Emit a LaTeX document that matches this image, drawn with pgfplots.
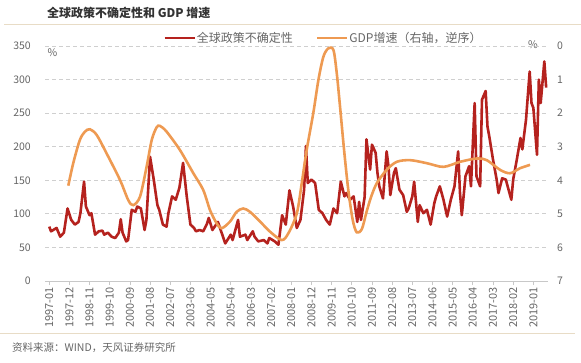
\documentclass[border=0pt]{standalone}
\usepackage{fontspec}
\setmainfont{Noto Sans CJK SC}
\usepackage{pgfplots}
\pgfplotsset{compat=1.18}
\definecolor{epured}{HTML}{B5221E}
\definecolor{gdporange}{HTML}{EE9A52}
\definecolor{gridgray}{HTML}{CFCFCF}
\definecolor{txtgray}{HTML}{666666}
\definecolor{titlegray}{HTML}{333333}
\definecolor{sepline}{HTML}{E8DCC6}
\definecolor{axisgray}{HTML}{C8C8C8}

\pgfplotstableread{
m v
0 81
1 74
4 79
6 66
8 72
10 108
12 91
14 84
16 88
17 101
19 148
20 111
22 98
23 101
25 69
27 74
29 75
30 69
32 72
34 66
36 64
38 72
39 92
40 72
42 59
43 61
45 106
47 103
48 111
50 108
52 76
53 91
55 185
57 151
59 113
60 106
62 84
64 81
65 101
67 126
69 121
71 139
73 176
75 126
77 84
79 79
80 74
82 76
84 74
86 85
87 94
89 76
92 88
94 72
96 56
99 69
100 61
103 91
104 66
107 69
108 61
111 74
112 66
114 59
117 61
119 56
120 64
123 59
125 54
127 98
129 84
131 135
133 111
135 79
137 91
139 136
140 201
141 146
143 151
145 146
147 106
149 101
151 91
153 84
155 108
157 101
159 148
161 126
162 131
164 121
166 126
168 88
169 118
170 91
172 125
173 211
175 166
176 203
178 191
179 161
180 141
182 123
184 193
185 171
186 128
188 161
189 168
191 136
193 128
195 103
196 108
198 126
199 148
201 88
202 113
204 101
206 106
208 84
210 116
211 126
213 141
215 121
217 96
219 121
221 141
223 193
224 131
225 98
227 156
229 171
230 141
232 265
233 156
235 141
236 270
238 283
239 230
240 215
242 181
244 151
245 131
247 153
249 151
252 121
253 151
255 181
257 213
258 196
260 240
262 312
263 265
264 258
266 188
267 300
268 265
270 327
271 288
}\epudata

\pgfplotstableread{
m g
10.4 4.16
13.1 3.49
16.7 2.80
19.5 2.55
22.2 2.48
25.9 2.65
31.3 3.20
38.6 3.99
43.1 4.59
45.8 4.74
49.5 4.49
53.1 3.60
55.9 2.80
58.6 2.42
60.4 2.38
64.0 2.55
71.3 3.10
78.6 3.79
84.0 4.29
87.7 4.89
91.3 5.28
94.0 5.43
98.6 5.23
102.2 4.94
105.8 4.84
109.5 4.94
115.0 5.23
120.4 5.53
126.8 5.78
130.4 5.58
135.0 4.99
137.7 4.09
140.4 3.10
144.0 2.00
146.8 1.01
149.5 0.32
152.2 0.07
155.0 0.12
156.8 0.81
158.6 1.81
160.8 3.10
163.1 4.29
165.5 5.18
167.7 5.55
170.5 5.45
173.0 4.95
175.5 4.50
178.6 4.09
184.0 3.69
189.5 3.45
196.8 3.40
205.9 3.49
215.0 3.60
224.0 3.45
233.2 3.35
238.6 3.40
245.9 3.69
251.3 3.79
256.8 3.64
262.2 3.54
}\gdpdata

\begin{document}
\begin{tikzpicture}[x=1pt,y=1pt]
\path[use as bounding box] (0,0) rectangle (581,-362);
\draw[sepline, line width=1pt] (4,-24) -- (581,-24);
\draw[sepline, line width=1pt] (0,-333) -- (575,-333);
\node[anchor=west, inner sep=0pt, font=\fontsize{12}{14}\selectfont\bfseries, text=titlegray] at (47,-13) {全球政策不确定性和 GDP 增速};
\node[anchor=west, inner sep=0pt, font=\fontsize{10.5}{12}\selectfont, text=txtgray] at (12,-348) {资料来源：WIND，天风证券研究所};
\node[inner sep=0pt, font=\fontsize{10.5}{12}\selectfont, text=txtgray] at (52.5,-52.5) {\%};
\node[inner sep=0pt, font=\fontsize{10.5}{12}\selectfont, text=txtgray] at (533,-45) {\%};

\begin{axis}[
  at={(45pt,-281pt)}, anchor=south west,
  scale only axis, width=503pt, height=235pt,
  xmin=-2.3, xmax=272, ymin=0, ymax=350,
  axis x line*=bottom, axis y line*=left,
  y axis line style={draw=none},
  x axis line style={draw=axisgray, line width=0.8pt, -},
  xtick={0,11,...,264},
  xticklabels={1997-01,1997-12,1998-11,1999-10,2000-09,2001-08,2002-07,2003-06,2004-05,2005-04,2006-03,2007-02,2008-01,2008-12,2009-11,2010-10,2011-09,2012-08,2013-07,2014-06,2015-05,2016-04,2017-03,2018-02,2019-01},
  tick align=outside,
  major x tick style={draw=axisgray, line width=0.8pt},
  major tick length=4pt,
  major y tick style={draw=none},
  ytick={0,50,...,350},
  ymajorgrids,
  grid style={draw=gridgray, line width=0.8pt, dash pattern=on 4pt off 3pt},
  /pgf/number format/assume math mode=true,
  ticklabel style={font=\fontsize{10.5}{12}\selectfont, text=txtgray},
  yticklabel style={inner sep=0pt, anchor=east, xshift=-10pt},
  xticklabel style={font=\fontsize{11}{12}\selectfont, inner sep=0pt, yshift=-2pt, rotate=90, anchor=east},
  legend style={at={(0.2346,1.034)}, anchor=west, draw=none, fill=none, inner sep=0pt,
     font=\fontsize{12}{14}\selectfont, text=txtgray, legend columns=2,
     nodes={inner sep=1pt},
     /tikz/every even column/.append style={column sep=22pt}},
  legend image code/.code={\draw[#1] (0pt,0pt) -- (30pt,0pt);},
]
\addplot[epured, line width=2.6pt, line join=round] table[x=m, y=v] {\epudata};
\addlegendentry{全球政策不确定性}
\addlegendimage{gdporange, line width=2.6pt}
\addlegendentry{GDP增速（右轴，逆序）}
\end{axis}

\begin{axis}[
  at={(45pt,-281pt)}, anchor=south west,
  scale only axis, width=503pt, height=235pt,
  xmin=-2.3, xmax=272, ymin=0, ymax=7, y dir=reverse,
  axis x line=none, axis y line*=right,
  y axis line style={draw=none},
  major y tick style={draw=none},
  ytick={0,1,...,7},
  /pgf/number format/assume math mode=true,
  ticklabel style={font=\fontsize{10.5}{12}\selectfont, text=txtgray},
  yticklabel style={inner sep=0pt, anchor=west, xshift=9pt},
]
\addplot[gdporange, line width=2.6pt, smooth, tension=0.5] table[x=m, y=g] {\gdpdata};
\end{axis}
\end{tikzpicture}
\end{document}
